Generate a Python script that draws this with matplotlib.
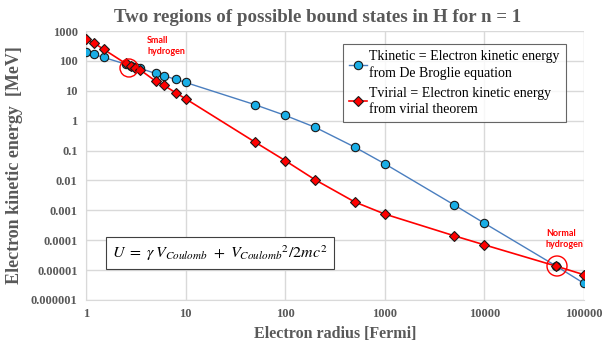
import matplotlib.pyplot as plt
from matplotlib.patches import Circle
from matplotlib.ticker import FixedLocator, FixedFormatter, NullLocator

plt.rcParams["font.family"] = ["Liberation Serif", "DejaVu Serif"]
plt.rcParams["mathtext.fontset"] = "stix"

GRAY = "#595959"

# electron radius [fm]
radius_kin = [1, 1.2, 1.5, 2.5, 2.8, 3.1, 3.5, 5, 6, 8, 10, 50, 100, 200, 500,
              1000, 5000, 10000, 52900, 100000]
# kinetic energy from de Broglie [MeV]
t_kinetic = [198, 164, 131, 78, 70, 63, 56, 38, 32, 24, 19, 3.4, 1.5, 0.6, 0.13,
             0.036, 0.0015, 0.00037, 1.35e-5, 3.6e-6]

radius_vir = [1, 1.2, 1.5, 2.5, 2.8, 3.1, 3.5, 5, 6, 8, 10, 50, 100, 200, 500,
              1000, 5000, 10000, 52900, 100000]
# kinetic energy from virial theorem [MeV]
t_virial = [540, 400, 245, 82, 68, 60, 50, 21, 15.5, 8.5, 5.4, 0.19, 0.046, 0.0105,
            0.0019, 0.00075, 0.00014, 7e-5, 1.35e-5, 7e-6]

x_ticks = [1, 10, 100, 1000, 10000, 100000]
x_labels = ["1", "10", "100", "1000", "10000", "100000"]
y_ticks = [1e3, 1e2, 1e1, 1, 0.1, 0.01, 0.001, 0.0001, 0.00001, 0.000001]
y_labels = ["1000", "100", "10", "1", "0.1", "0.01", "0.001", "0.0001",
            "0.00001", "0.000001"]

fig = plt.figure(figsize=(6.05, 3.43), dpi=100)
ax = fig.add_axes([86 / 605, 1 - 300 / 343, 498 / 605, 269 / 343])
ax.set_xscale("log")
ax.set_yscale("log")
ax.set_xlim(1, 100000)
ax.set_ylim(1e-6, 1e3)

ax.plot(radius_kin, t_kinetic, color="#4a7ebf", lw=1.0,
        marker="o", ms=6, mfc="#19aee6", mec="#1a1a1a", mew=0.8,
        label="Tkinetic = Electron kinetic energy\nfrom De Broglie equation",
        zorder=3)
ax.plot(radius_vir, t_virial, color="#ff0000", lw=1.2,
        marker="D", ms=5.5, mfc="#ff0000", mec="#1a1a1a", mew=0.8,
        label="Tvirial = Electron kinetic energy\nfrom virial theorem",
        zorder=4)

ax.xaxis.set_major_locator(FixedLocator(x_ticks))
ax.xaxis.set_major_formatter(FixedFormatter(x_labels))
ax.xaxis.set_minor_locator(NullLocator())
ax.yaxis.set_major_locator(FixedLocator(y_ticks))
ax.yaxis.set_major_formatter(FixedFormatter(y_labels))
ax.yaxis.set_minor_locator(NullLocator())

ax.grid(True, color="#d9d9d9", lw=1.0)
ax.set_axisbelow(True)
for side in ["top", "right"]:
    ax.spines[side].set_visible(False)
for side in ["left", "bottom"]:
    ax.spines[side].set_color("#d9d9d9")
ax.tick_params(length=0, pad=6, labelsize=9, labelcolor=GRAY)
for lab in ax.get_xticklabels() + ax.get_yticklabels():
    lab.set_fontweight("bold")

ax.set_xlabel("Electron radius [Fermi]", fontsize=11.5, fontweight="bold",
              color=GRAY, labelpad=4)
ax.set_ylabel("Electron kinetic energy  [MeV]", fontsize=13, fontweight="bold",
              color=GRAY, labelpad=6)
fig.text(318 / 605, 1 - 17 / 343,
         "Two regions of possible bound states in H for n = 1",
         ha="center", va="center", fontsize=13.6, fontweight="bold", color=GRAY)

leg = ax.legend(loc="upper left", bbox_to_anchor=(343 / 605, 1 - 44 / 343),
                bbox_transform=fig.transFigure, fontsize=10, frameon=True,
                fancybox=False, edgecolor="#404040", handlelength=1.3,
                handletextpad=0.15, borderpad=0.45, labelspacing=0.45,
                borderaxespad=0)
leg.get_frame().set_linewidth(0.8)
for t in leg.get_texts():
    t.set_linespacing(1.3)

ax.text(0.052, 0.175,
        r"$U\ =\ \gamma\,V_{Coulomb}\ +\ V_{Coulomb}{}^{2}/2mc^{2}$",
        transform=ax.transAxes, fontsize=11.5, va="center", ha="left",
        bbox=dict(boxstyle="square,pad=0.4", fc="white", ec="#404040", lw=0.8))

# red rings around the two physical solutions (pixel centre, radius)
for cx, cy, r in [(129, 68, 9), (557, 266, 10)]:
    ax.add_patch(Circle((cx / 100, (343 - cy) / 100), r / 100,
                        transform=fig.dpi_scale_trans, fill=False,
                        ec="#ff0000", lw=1.0, zorder=5, clip_on=False))

fig.text(147 / 605, 1 - 46 / 343, "Small\nhydrogen", family="Lato",
         fontsize=6.5, fontweight="bold", color="#ff0000", ha="left",
         va="center", linespacing=1.3)
fig.text(546 / 605, 1 - 239 / 343, "Normal\nhydrogen", family="Lato",
         fontsize=6.5, fontweight="bold", color="#ff0000", ha="left",
         va="center", linespacing=1.3)

fig.savefig("out.png", dpi=100, facecolor="white")
